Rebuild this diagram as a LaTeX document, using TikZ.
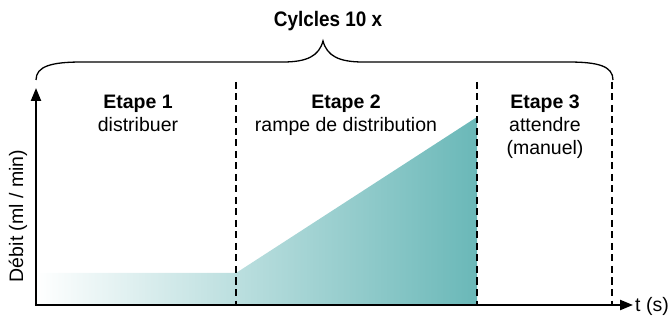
\documentclass[tikz,border=0pt]{standalone}
\usepackage{fontspec}
\setmainfont{Liberation Sans}
\usetikzlibrary{arrows.meta}
\definecolor{tealfill}{RGB}{106,184,184}
\tikzset{
  axisline/.style={line width=2.2pt, -{Triangle[length=13pt,width=10pt]}},
  stagesep/.style={line width=1.3pt, dash pattern=on 7pt off 4.5pt},
  bracestyle/.style={line width=1.3pt},
  lbl/.style={font=\fontsize{19.5}{23}\selectfont, inner sep=0pt, anchor=base},
  lblb/.style={lbl, font=\fontsize{19.5}{23}\selectfont\bfseries},
}
\begin{document}
\begin{tikzpicture}[x=1pt,y=-1pt]
\useasboundingbox (0,0) rectangle (669,320);
% key points
\coordinate (O) at (36,305);
\coordinate (ytip) at (36,88);
\coordinate (xtip) at (633,305);
\coordinate (flatL) at (36,273);
\coordinate (flatR) at (236,273);
\coordinate (rampT) at (477,117);
\coordinate (rampB) at (477,305);
% shaded flow profile
\shade[left color=white, right color=tealfill]
  (O) -- (flatL) -- (flatR) -- (rampT) -- (rampB) -- cycle;
% stage separators
\coordinate (s1t) at (236,82); \coordinate (s1b) at (236,305);
\coordinate (s2t) at (477,82); \coordinate (s2b) at (477,305);
\coordinate (s3t) at (612,82); \coordinate (s3b) at (612,305);
\draw[stagesep] (s1t) -- (s1b);
\draw[stagesep] (s2t) -- (s2b);
\draw[stagesep] (s3t) -- (s3b);
% axes
\draw[axisline] (O) -- (ytip);
\draw[axisline] ([xshift=-1.1pt]O) -- (xtip);
\node[lbl, anchor=west] (tlabel) at ([xshift=2pt,yshift=-1pt]xtip) {t (s)};
\node[lbl, rotate=90, anchor=center] (ylabel) at (18,216) {Débit (ml / min)};
% brace
\coordinate (bl) at (36,80);
\coordinate (br) at (613,80);
\coordinate (btip) at (323,41);
\draw[bracestyle] (bl) .. controls (36,66) and (52,62) .. (82,62)
  -- (283,62) .. controls (307,62) and (319,56) .. (btip)
  .. controls (327,56) and (339,62) .. (363,62)
  -- (568,62) .. controls (598,62) and (613,66) .. (br);
\node[lblb, font=\fontsize{21}{24}\selectfont\bfseries, xscale=0.9] (cyc) at (328,27) {Cylcles 10 x};
% stage labels
\node[lblb] (e1) at (138,109) {Etape 1};
\node[lbl] (e1b) at (138,132) {distribuer};
\node[lblb] (e2) at (346,109) {Etape 2};
\node[lbl] (e2b) at (346,132) {rampe de distribution};
\node[lblb] (e3) at (545,109) {Etape 3};
\node[lbl] (e3b) at (545,132) {attendre};
\node[lbl] (e3c) at (545,155) {(manuel)};
\end{tikzpicture}
\end{document}
